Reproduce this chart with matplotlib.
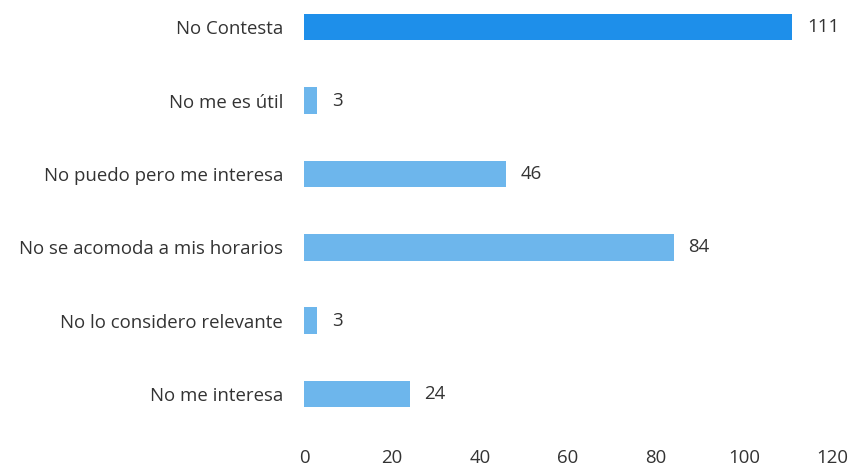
import matplotlib
matplotlib.use("Agg")
import matplotlib.pyplot as plt

categories = ["No me interesa", "No lo considero relevante", "No se acomoda a mis horarios",
              "No puedo pero me interesa", "No me es útil", "No Contesta"]
values = [24, 3, 84, 46, 3, 111]
colors = ["#6DB6EC", "#6DB6EC", "#6DB6EC", "#6DB6EC", "#6DB6EC", "#1E8FEA"]
xticks = [0, 20, 40, 60, 80, 100, 120]

plt.rcParams['font.family'] = ['Open Sans', 'DejaVu Sans']
fs = 13.4
fig = plt.figure(figsize=(8.53, 4.68), dpi=100)
ax = fig.add_axes([0.3564, 0.0876, 0.619, 0.909])
pos = list(range(len(categories)))
bars = ax.barh(pos, values, height=0.36, color=colors)
for p, v in zip(pos, values):
    ax.text(v + 3.3, p, str(v), va='center', ha='left', fontsize=fs, color='#333333')
ax.set_xlim(0, 120)
ax.set_ylim(-0.45, 5.35)
ax.set_yticks(pos)
ax.set_yticklabels(categories, fontsize=fs, color='#333333')
ax.set_xticks(xticks)
ax.set_xticklabels([str(t) for t in xticks], fontsize=fs, color='#333333')
for s in ax.spines.values():
    s.set_visible(False)
ax.tick_params(axis='both', length=0)
ax.tick_params(axis='y', pad=15)
ax.tick_params(axis='x', pad=16)
fig.savefig("out.png", dpi=100)
